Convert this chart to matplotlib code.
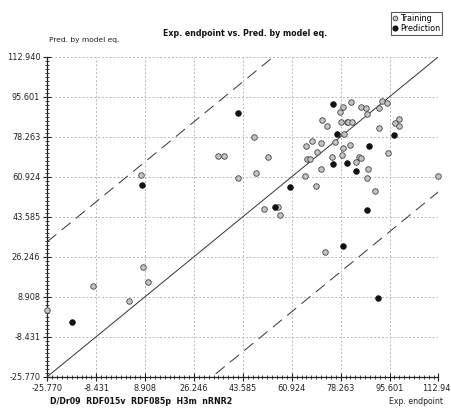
import matplotlib
matplotlib.use("Agg")
import matplotlib.pyplot as plt
from matplotlib.ticker import FixedLocator, AutoMinorLocator
from matplotlib.lines import Line2D

plt.rcParams['font.family'] = ['DejaVu Sans']

# ---- data ----
tick_values = [-25.770, -8.431, 8.908, 26.246, 43.585, 60.924, 78.263, 95.601, 112.940]
tick_labels = ["-25.770", "-8.431", "8.908", "26.246", "43.585", "60.924", "78.263", "95.601", "112.940"]

train_x = [-25.77, -9.67, 3.09, 8.16, 9.94, 7.35, 47.42, 34.65, 36.88, 52.49,
           48.12, 41.95, 51.07, 56.14, 56.74, 78.97, 81.81, 85.46, 87.13, 93.01,
           94.57, 91.74, 78.02, 87.70, 71.53, 73.51, 78.26, 80.39, 80.95, 82.27,
           98.83, 97.52, 98.83, 91.74, 79.33, 68.09, 71.17, 76.14, 65.85, 81.67,
           79.19, 69.86, 94.93, 66.31, 67.48, 75.18, 78.62, 84.86, 85.46, 83.58,
           71.28, 87.94, 65.71, 87.70, 112.87, 69.40, 90.53, 72.59]
train_y = [3.14, 13.42, 7.17, 21.65, 15.28, 61.53, 78.01, 69.77, 69.77, 69.47,
           62.53, 60.49, 46.79, 47.66, 44.32, 91.27, 93.31, 91.01, 90.58, 93.61,
           93.00, 90.58, 88.97, 88.24, 85.37, 82.77, 84.64, 84.64, 84.64, 84.51,
           85.81, 84.07, 82.77, 82.04, 79.31, 76.53, 75.66, 75.97, 74.10, 74.67,
           73.24, 71.76, 71.07, 68.47, 68.73, 69.47, 70.20, 69.60, 68.90, 67.43,
           64.39, 64.39, 61.10, 60.36, 61.10, 57.02, 54.60, 28.42]

pred_x = [-17.12, 7.70, 41.95, 60.18, 54.97, 75.43, 76.85, 97.06, 88.30, 75.71,
          80.57, 83.69, 87.66, 79.08, 91.38]
pred_y = [-2.19, 57.33, 88.54, 56.46, 47.92, 92.31, 79.35, 79.00, 74.45, 66.52,
          66.74, 63.48, 46.66, 30.89, 8.34]

band = 58.5
lo, hi = tick_values[0], tick_values[-1]

# ---- figure ----
fig = plt.figure(figsize=(4.52, 4.08), dpi=100)
ax = fig.add_axes([0.1046, 0.0767, 0.8655, 0.7843])
ax.set_xlim(lo, hi)
ax.set_ylim(lo, hi)

ax.xaxis.set_major_locator(FixedLocator(tick_values))
ax.yaxis.set_major_locator(FixedLocator(tick_values))
ax.set_xticklabels(tick_labels)
ax.set_yticklabels(tick_labels)
ax.xaxis.set_minor_locator(AutoMinorLocator(10))
ax.yaxis.set_minor_locator(AutoMinorLocator(10))
ax.tick_params(which='major', direction='inout', length=6, width=0.8,
               labelsize=5.9, pad=2, colors='#222222')
ax.tick_params(which='minor', direction='inout', length=3, width=0.6, colors='#222222')

for s in ['top', 'right']:
    ax.spines[s].set_visible(False)
for s in ['left', 'bottom']:
    ax.spines[s].set_linewidth(0.9)
    ax.spines[s].set_color('#222222')

ax.grid(True, which='major', color='#b8b8b8', linestyle=(0, (2, 2)), linewidth=0.7)
ax.set_axisbelow(True)

# reference lines
ax.plot([lo, hi], [lo, hi], color='#333333', lw=0.7)
ax.plot([lo, hi], [lo + band, hi + band], color='#333333', lw=0.7, linestyle=(0, (12, 7)))
ax.plot([lo, hi], [lo - band, hi - band], color='#333333', lw=0.7, linestyle=(0, (12, 7)))

ax.scatter(train_x, train_y, s=16, facecolor='#c4c4c4', edgecolor='#444444',
           linewidth=0.6, zorder=3, clip_on=False)
ax.scatter(pred_x, pred_y, s=16, facecolor='#111111', edgecolor='#111111',
           linewidth=0.6, zorder=3, clip_on=False)

# texts
fig.text(245 / 452, 1 - 33 / 408, "Exp. endpoint vs. Pred. by model eq.", ha='center',
         va='center', fontsize=5.7, fontweight='bold', color='#111111')
fig.text(49 / 452, 1 - 40 / 408, "Pred. by model eq.", ha='left', va='center',
         fontsize=5.4, color='#222222')
fig.text(50 / 452, 1 - 401 / 408, "D/Dr09  RDF015v  RDF085p  H3m  nRNR2", ha='left',
         va='center', fontsize=5.7, fontweight='bold', color='#111111')
fig.text(443 / 452, 1 - 401 / 408, "Exp. endpoint", ha='right', va='center',
         fontsize=5.6, color='#222222')

handles = [Line2D([], [], marker='o', linestyle='none', markersize=3.4,
                  markerfacecolor='#c4c4c4', markeredgecolor='#444444', markeredgewidth=0.6),
           Line2D([], [], marker='o', linestyle='none', markersize=3.4,
                  markerfacecolor='#111111', markeredgecolor='#111111')]
leg = fig.legend(handles, ["Training", "Prediction"], loc='upper right',
                 bbox_to_anchor=(442 / 452, 1 - 12 / 408), fontsize=5.8,
                 frameon=True, fancybox=False, handlelength=0.6, handletextpad=0.3,
                 borderpad=0.25, labelspacing=0.1, borderaxespad=0)
leg.get_frame().set_edgecolor('#333333')
leg.get_frame().set_linewidth(0.8)

fig.savefig("out.png", dpi=100)
